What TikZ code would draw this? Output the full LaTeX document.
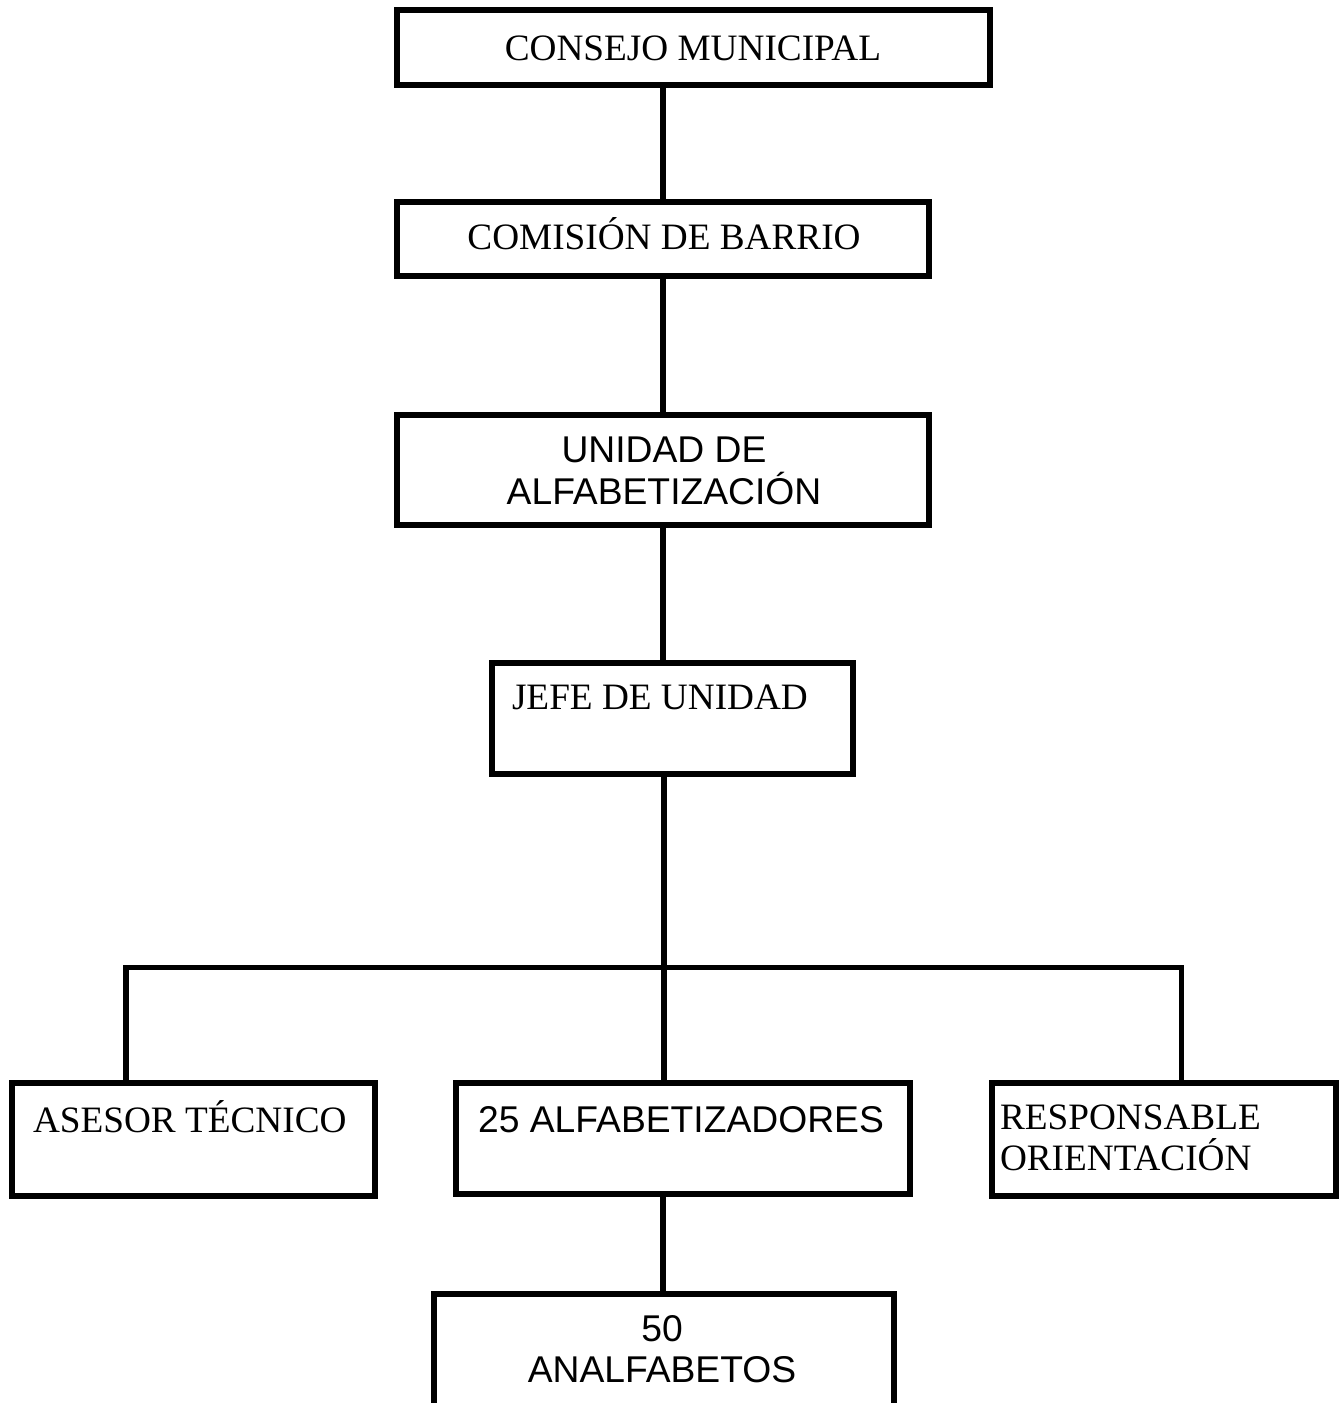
\documentclass[tikz,border=0pt]{standalone}
\usepackage{fontspec}
\setmainfont{Liberation Serif}
\newfontfamily\arialfont{Liberation Sans}
\usetikzlibrary{positioning}
\usepackage{xcolor}

\begin{document}
\begin{tikzpicture}[x=0.02cm, y=-0.02cm,
  every node/.style = {inner sep=0pt, outer sep=0pt},
  box/.style 2 args = {draw, line width=3.1pt, rectangle,
    minimum width=#1, minimum height=#2},
  serif/.style = {font=\fontsize{21.2}{23.5}\selectfont},
  sans/.style = {font=\arialfont\fontsize{21.2}{23.5}\selectfont},
  link/.style = {draw, line width=3.1pt}
  ]
  \useasboundingbox (0,0) rectangle (1341,1403);

  % cajas
  \node[box={11.86cm}{1.50cm}] (consejo) at (693.5,47.5) {};
  \node[box={10.64cm}{1.48cm}] (comision) at (663,239) {};
  \node[box={10.64cm}{2.20cm}] (unidad) at (663,470) {};
  \node[box={7.22cm}{2.22cm}] (jefe) at (672.5,718.5) {};
  \node[box={7.26cm}{2.26cm}] (asesor) at (193.5,1139.5) {};
  \node[box={9.08cm}{2.22cm}] (alfab) at (683,1138.5) {};
  \node[box={6.88cm}{2.26cm}] (respons) at (1164,1139.5) {};

  % textos
  \node[serif, anchor=base] (consejo-t) at (693,60) {CONSEJO MUNICIPAL};
  \node[serif, anchor=base] (comision-t) at (664,249) {COMISIÓN DE BARRIO};
  \node[sans, align=center] (unidad-t) at (664,471) {UNIDAD DE\\ALFABETIZACIÓN};
  \node[serif, anchor=base west] (jefe-t) at (512,709) {JEFE DE UNIDAD};
  \node[serif, anchor=base west] (asesor-t) at (33,1132) {ASESOR TÉCNICO};
  \node[sans, anchor=base] (alfab-t) at (681,1132) {25 ALFABETIZADORES};
  \node[serif, anchor=west, align=left] (respons-t) at (1000,1138)
    {RESPONSABLE\\ORIENTACIÓN};
  \node[sans, align=center] (analf-t) at (662,1349) {50\\ANALFABETOS};

  \coordinate (barmid) at (664,967.5);
  \coordinate (barleft) at (126,967.5);
  \coordinate (barright) at (1181.5,967.5);
  \coordinate (analftop) at (663,1294);

  % lineas
  \draw[link] (comision.north |- consejo.south) -- (comision.north);
  \draw[link] (comision.south) -- (unidad.north);
  \draw[link] (unidad.south) -- (unidad.south |- jefe.north);
  \draw[link] (barmid |- jefe.south) -- (barmid |- alfab.north);
  \draw[link] (barleft |- asesor.north) -- (barleft) -- (barright)
    -- (barright |- respons.north);
  \draw[link] (analftop |- alfab.south) -- (analftop);
  \draw[link] (434,1403) |- (analftop) -| (894,1403);
\end{tikzpicture}
\end{document}
